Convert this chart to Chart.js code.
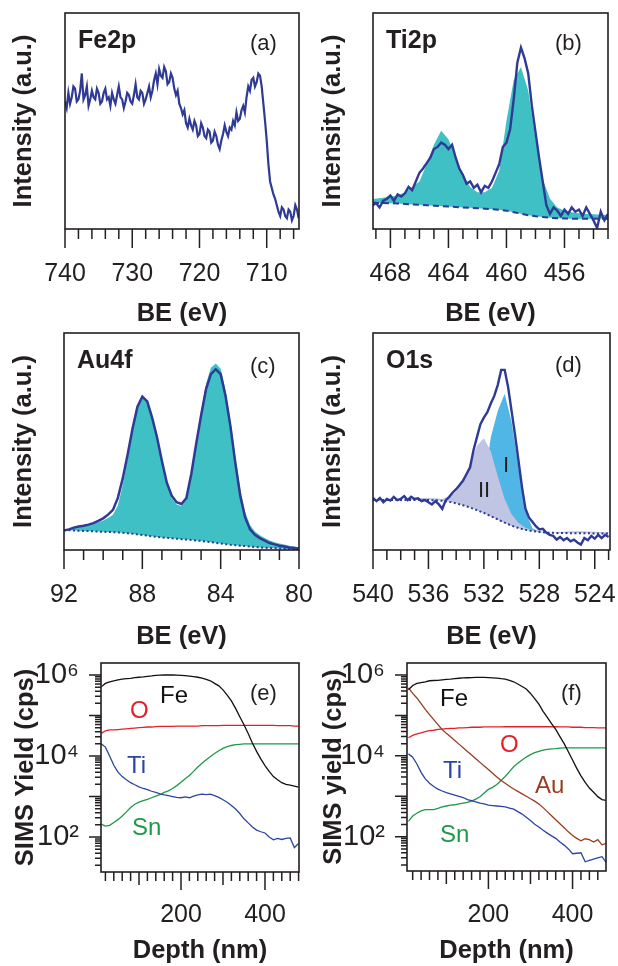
<!DOCTYPE html>
<html>
<head>
<meta charset="utf-8">
<title>XPS and SIMS depth profiles</title>
<script src="https://cdn.jsdelivr.net/npm/chart.js@4.4.1/dist/chart.umd.min.js"></script>
<style>
  html, body { margin: 0; padding: 0; background: #fff; }
  body { position: relative; width: 618px; height: 966px; overflow: hidden; }
  canvas { position: absolute; }
</style>
</head>
<body>
<canvas id="fe2p" width="318" height="340" style="left:0px;top:0px"></canvas>
<canvas id="ti2p" width="309" height="340" style="left:309px;top:0px"></canvas>
<canvas id="au4f" width="318" height="340" style="left:0px;top:320px"></canvas>
<canvas id="o1s" width="309" height="340" style="left:309px;top:320px"></canvas>
<canvas id="simsE" width="318" height="340" style="left:0px;top:640px"></canvas>
<canvas id="simsF" width="309" height="340" style="left:309px;top:640px"></canvas>
<script>
const FONT = '"Liberation Sans", Arial, Helvetica, sans-serif';
const INK = '#231f20';
const TRACE = '#2e3a94';
const TEAL = '#3ec0c4';

// (a) Fe2p, intensity in arbitrary units (0-100 of the frame)
const fe2pBE = [740,739.75,739.5,739.25,739,738.75,738.5,738.25,738,737.75,
  737.5,737.25,737,736.75,736.5,736.25,736,735.75,735.5,735.25,
  735,734.75,734.5,734.25,734,733.75,733.5,733.25,733,732.75,
  732.5,732.25,732,731.75,731.5,731.25,731,730.75,730.5,730.25,
  730,729.75,729.5,729.25,729,728.75,728.5,728.25,728,727.75,
  727.5,727.25,727,726.75,726.5,726.25,726,725.75,725.5,725.25,
  725,724.75,724.5,724.25,724,723.75,723.5,723.25,723,722.75,
  722.5,722.25,722,721.75,721.5,721.25,721,720.75,720.5,720.25,
  720,719.75,719.5,719.25,719,718.75,718.5,718.25,718,717.75,
  717.5,717.25,717,716.75,716.5,716.25,716,715.75,715.5,715.25,
  715,714.75,714.5,714.25,714,713.75,713.5,713.25,713,712.75,
  712.5,712.25,712,711.75,711.5,711.25,711,710.75,710.5,710.25,
  710,709.75,709.5,709.25,709,708.75,708.5,708.25,708,707.75,
  707.5,707.25,707,706.75,706.5,706.25,706,705.75,705.5,705.25];
const fe2pSignal = [59,56,63,58,61,66,65,59,60,64,
  72,60,62,66,57,60,64,61,60,65,
  63,58,59,63,65,60,61,57,63,60,
  58,62,66,61,60,56,59,63,62,59,
  58,62,67,61,60,64,63,58,60,63,
  66,61,64,69,72,67,74,71,70,75,
  73,67,68,72,70,65,62,64,58,56,
  53,55,49,47,51,48,46,50,48,43,
  44,49,47,43,42,46,45,40,41,45,
  43,39,37,41,44,48,45,43,47,46,
  50,48,54,50,51,55,57,54,61,66,
  64,69,70,66,68,72,71,66,58,50,
  41,30,22,19,16,14,11,8,6,10,
  9,6,5,9,8,4,6,11,9,5];
const fe2pTickLabels = [740, 730, 720, 710];

// (b) Ti2p
const ti2pBE = [469.2,469,468.75,468.5,468.25,468,467.75,467.5,467.25,467,466.75,
  466.5,466.25,466,465.75,465.5,465.25,465,464.75,464.5,464.25,
  464,463.75,463.5,463.25,463,462.75,462.5,462.25,462,461.75,
  461.5,461.25,461,460.75,460.5,460.25,460,459.75,459.5,459.25,
  459,458.75,458.5,458.25,458,457.75,457.5,457.25,457,456.75,
  456.5,456.25,456,455.75,455.5,455.25,455,454.75,454.5,454.25,
  454,453.75,453.5,453.25,453];
const ti2pSignal = [11,12,10,13,14,15.5,13,16,15,16.5,19.5,
  18,22,26,28,30.5,33,37,38,40,39,
  37,39,33,28,25,21,22,19,20.5,17,
  20,19,22,26,30,38,40,46,60,77,
  84,79,72,57,45,33,22,11,7,10,
  8.5,6,9,7,10,8,9,6,10,7,
  4,0.5,8,4,7];
const ti2pFitBE = [469.2,469,468.5,468,467.5,467,466.5,466,465.5,465,464.5,
  464,463.5,463,462.5,462,461.5,461,460.5,460,459.5,
  459,458.5,458,457.5,457,456.5,456,455.5,455,454.5,
  454,453.5,453];
const ti2pEnvelope = [14,14,14.5,15,15.5,17,19.5,22,30,39,45.5,
  41.5,33,25,19.5,17,17,19,27,50,69,
  75,64,42,23,14,10,8.5,7.8,7.3,7,
  6.8,6.6,6.5];
const ti2pBackground = [12.2,12.1,12,11.9,11.8,11.6,11.4,11.2,11,10.8,10.6,
  10.4,10.2,10,9.8,9.6,9.4,9.2,8.9,8.5,7.8,
  7.1,6.4,5.9,5.5,5.2,5,4.9,4.8,4.8,4.7,
  4.7,4.7,4.7];
const ti2pTickLabels = [468, 464, 460, 456];

// (c) Au4f
const au4fBE = [92,91.75,91.5,91.25,91,90.75,90.5,90.25,90,89.75,
  89.5,89.25,89,88.75,88.5,88.25,88,87.75,87.5,87.25,
  87,86.75,86.5,86.25,86,85.75,85.5,85.25,85,84.75,
  84.5,84.25,84,83.75,83.5,83.25,83,82.75,82.5,82.25,
  82,81.75,81.5,81.25,81,80.75,80.5,80.25,80];
const au4fSignal = [9,9.5,10.3,10.8,11.2,11.7,12.4,13.4,14.6,16.3,
  18.5,24,33,44,56,66,70.7,68.5,61,52,
  41,31,25,22,21.2,24,35,49,62,74,
  81,83.3,81,71,57,40,25,15,9.5,7,
  5.5,4.3,3.2,2.6,2,1.6,1.2,0.9,0.6];
const au4fEnvelope = [9.2,9.6,10.1,10.5,11,11.5,12,12.8,13.6,14.8,
  16.2,20.5,30,42,55,65.5,70.5,68.5,61.5,52,
  41,30.5,24,21,20.3,23.5,35,50,64,76.5,
  84,86,83.5,73.5,59.5,43,28,17.5,11.5,8.5,
  6.8,5.5,4.4,3.6,3,2.5,2,1.6,1.3];
const au4fBackground = [9.2,9.1,9,8.9,8.8,8.7,8.6,8.5,8.4,8.3,
  8.2,8.1,7.9,7.7,7.5,7.2,6.9,6.6,6.3,6,
  5.8,5.6,5.4,5.2,5,4.8,4.6,4.4,4.2,3.9,
  3.6,3.3,3,2.7,2.4,2.2,2,1.8,1.6,1.4,
  1.2,1,0.9,0.8,0.7,0.6,0.5,0.4,0.3];
const au4fTickLabels = [92, 88, 84, 80];

// (d) O1s
const o1sBE = [540,539.75,539.5,539.25,539,538.75,538.5,538.25,538,537.75,
  537.5,537.25,537,536.75,536.5,536.25,536,535.75,535.5,535.25,
  535,534.75,534.5,534.25,534,533.75,533.5,533.25,533,532.75,
  532.5,532.25,532,531.75,531.5,531.25,531,530.75,530.5,530.25,
  530,529.75,529.5,529.25,529,528.75,528.5,528.25,528,527.75,
  527.5,527.25,527,526.75,526.5,526.25,526,525.75,525.5,525.25,
  525,524.75,524.5,524.25,524,523.75,523.5,523.25,523];
const o1sSignal = [24,22.5,24,22,23.5,22.8,24.5,23,23.5,24.8,
  23,24.5,23.5,23.8,22.5,23,22,21,22.5,21,
  19,23,24.5,26.5,28,30,32,35,38,46,
  52,58,61,63.5,67.5,71,76,83,83,75,
  64,53,41,29,19,15,13,11,9.5,9.8,
  8,7,6.5,4.8,6,4.5,5.5,4,4.8,3.5,
  2.5,5.5,4.5,6.5,5.2,7,5.5,7,6];
const o1sFitBE = [540,539.5,539,538.5,538,537.5,537,536.5,536,535.5,
  535,534.5,534,533.5,533,532.5,532,531.5,531,530.5,
  530,529.5,529,528.5,528,527.5,527,526.5,526,525.5,
  525,524.5,524,523.5,523];
const o1sBackground = [23,23,23,23,23,23,23,23,23,22.9,
  22.7,22.2,21.5,20.6,19.6,18.4,17.1,15.6,14.1,12.6,
  11.2,10.1,9.3,8.7,8.3,8,7.9,7.8,7.8,7.7,
  7.7,7.7,7.6,7.6,7.6];
const o1sPeakII = [23,23,23,23,23,23,23.8,24,24,23.8,
  23.5,24.5,27,32,40,48,51.5,45.5,34,23.5,
  16.5,12.5,10.3,9.2,8.6,8.2,8.1,8.3,8.5,8.6,
  8.6,8.5,8.4,8.3,8.2];
const o1sPeakI = [23,23,23,23,23,23,23,23,23,22.9,
  22.7,22.2,21.5,20.6,19.6,18.4,30,52,64,72,
  59,38,18,10,8.5,8,7.9,7.8,7.8,7.7,
  7.7,7.7,7.6,7.6,7.6];
const o1sTickLabels = [540, 536, 532, 528, 524];

// (e) and (f) SIMS depth profiles, yield in cps
const depth = [10,20,30,40,50,60,70,80,90,100,110,120,130,140,150,160,170,180,190,200,
  210,220,230,240,250,260,270,280,290,300,310,320,330,340,350,360,370,380,390,400,
  410,420,430,440,450,460,470,480];
const feE = [5.1e5,6.2e5,6.8e5,7.2e5,7.6e5,7.9e5,8.1e5,8.3e5,8.6e5,8.8e5,
  9.0e5,9.3e5,9.5e5,9.8e5,9.9e5,1.0e6,1.0e6,1.0e6,9.9e5,9.8e5,
  9.7e5,9.4e5,9.1e5,8.8e5,8.4e5,7.8e5,7.2e5,6.2e5,5.4e5,4.3e5,
  3.2e5,2.3e5,1.5e5,9.3e4,5.9e4,3.6e4,2.1e4,1.3e4,8.5e3,5.8e3,
  4.2e3,3.1e3,2.6e3,2.2e3,2.0e3,1.9e3,1.8e3,1.7e3];
const oE = [3.6e4,4.2e4,4.4e4,4.4e4,4.5e4,4.6e4,4.7e4,4.8e4,4.9e4,5.0e4,
  5.1e4,5.2e4,5.2e4,5.3e4,5.4e4,5.4e4,5.4e4,5.4e4,5.5e4,5.5e4,
  5.5e4,5.5e4,5.5e4,5.5e4,5.6e4,5.6e4,5.6e4,5.6e4,5.6e4,5.7e4,
  5.7e4,5.7e4,5.7e4,5.7e4,5.7e4,5.7e4,5.7e4,5.7e4,5.7e4,5.7e4,
  5.7e4,5.7e4,5.6e4,5.6e4,5.6e4,5.6e4,5.5e4,5.5e4];
const tiE = [2.0e4,1.66e4,1.0e4,5.9e3,4.0e3,3.1e3,2.6e3,2.2e3,1.95e3,1.74e3,
  1.58e3,1.48e3,1.35e3,1.26e3,1.17e3,1.10e3,1.05e3,1.0e3,955,933,
  977,933,1.02e3,1.10e3,1.15e3,1.12e3,1.15e3,1.05e3,955,832,
  724,603,490,380,282,224,178,148,135,126,
  100,85,93,87,93,95,55,69];
const snE = [209,186,195,229,269,331,417,537,646,724,
  794,851,933,1.02e3,1.12e3,1.26e3,1.38e3,1.58e3,1.86e3,2.24e3,
  2.75e3,3.31e3,4.17e3,5.37e3,6.61e3,8.13e3,9.77e3,1.15e4,1.35e4,1.55e4,
  1.70e4,1.82e4,1.91e4,1.95e4,2.0e4,2.0e4,2.0e4,2.0e4,2.0e4,2.0e4,
  2.0e4,2.0e4,2.0e4,2.0e4,2.0e4,2.0e4,2.0e4,2.0e4];
const feF = [4.3e5,5.5e5,6.2e5,6.5e5,6.8e5,7.2e5,7.3e5,7.4e5,7.6e5,7.8e5,
  7.9e5,8.1e5,8.3e5,8.5e5,8.55e5,8.6e5,8.7e5,8.7e5,8.7e5,8.6e5,
  8.5e5,8.4e5,8.1e5,7.9e5,7.4e5,6.8e5,6.0e5,5.2e5,4.5e5,3.5e5,
  2.6e5,1.9e5,1.26e5,8.9e4,6.3e4,4.5e4,3.0e4,2.0e4,1.26e4,7.9e3,
  4.9e3,3.2e3,2.2e3,1.6e3,1.26e3,980,830,790];
const oF = [2.8e4,3.2e4,3.5e4,3.7e4,4.0e4,4.2e4,4.3e4,4.5e4,4.6e4,4.7e4,
  4.8e4,4.8e4,4.9e4,4.9e4,5.0e4,5.1e4,5.1e4,5.1e4,5.2e4,5.2e4,
  5.2e4,5.2e4,5.2e4,5.25e4,5.25e4,5.25e4,5.25e4,5.25e4,5.25e4,5.25e4,
  5.25e4,5.25e4,5.25e4,5.25e4,5.25e4,5.25e4,5.2e4,5.2e4,5.2e4,5.1e4,
  5.1e4,5.1e4,5.0e4,5.0e4,5.0e4,4.9e4,4.9e4,4.9e4];
const auF = [4.8e5,3.5e5,2.7e5,1.95e5,1.41e5,1.05e5,7.9e4,5.9e4,4.5e4,3.6e4,
  2.95e4,2.4e4,1.95e4,1.58e4,1.29e4,1.05e4,8.5e3,6.9e3,5.6e3,4.6e3,
  3.7e3,3.0e3,2.45e3,2.1e3,1.78e3,1.51e3,1.32e3,1.15e3,1.0e3,870,
  760,645,525,417,331,263,209,166,132,107,
  91,79,89,85,74,85,63,69];
const tiF = [1.12e4,9.3e3,6.3e3,3.9e3,2.7e3,2.1e3,1.74e3,1.51e3,1.35e3,1.23e3,
  1.15e3,1.07e3,1.0e3,933,832,776,724,676,646,603,
  589,575,562,550,513,479,417,363,302,251,
  204,174,145,123,105,91,74,62,50,38,
  39,40,24,26,28,30,32,23];
const snF = [240,324,380,437,468,468,468,501,550,575,
  603,617,646,676,708,759,851,977,1.20e3,1.48e3,
  1.66e3,1.95e3,2.45e3,3.09e3,4.07e3,5.37e3,6.61e3,7.94e3,9.33e3,1.07e4,
  1.20e4,1.29e4,1.38e4,1.45e4,1.48e4,1.51e4,1.55e4,1.58e4,1.58e4,1.58e4,
  1.58e4,1.58e4,1.58e4,1.58e4,1.58e4,1.58e4,1.58e4,1.58e4];
const depthTickLabels = [200, 400];
const yieldTickLabels = [1e2, 1e4, 1e6];
const SUP = { 2: '\u00b2', 4: '\u2074', 6: '\u2076' };

const xy = (xs, ys) => xs.map((x, i) => ({ x, y: ys[i] }));

// tick marks along the bottom edge: [value, length]
function marks(lo, hi, step, lenOf) {
  const out = [];
  for (let i = Math.ceil(lo / step - 1e-9); i * step <= hi + 1e-9; i++) {
    out.push([i * step, lenOf(i * step)]);
  }
  return out;
}
function logMarks(lo, hi) {
  const out = [];
  for (let e = 1; e <= 6; e++) {
    for (let k = 1; k <= 9; k++) {
      const v = k * Math.pow(10, e);
      if (v >= lo && v <= hi) out.push([v, k === 1 ? 12 : 6]);
    }
  }
  return out;
}

// frame, tick marks and in-plot labels
function deco(spec) {
  return {
    id: 'deco',
    afterDraw(chart) {
      const { ctx, chartArea: a, scales } = chart;
      const ox = chart.canvas.offsetLeft, oy = chart.canvas.offsetTop;
      ctx.save();
      ctx.strokeStyle = INK;
      ctx.lineWidth = 1.6;
      ctx.strokeRect(a.left, a.top, a.right - a.left, a.bottom - a.top);
      ctx.lineWidth = 1.5;
      ctx.beginPath();
      for (const [v, len] of spec.xMarks) {
        const px = scales.x.getPixelForValue(v);
        ctx.moveTo(px, a.bottom);
        ctx.lineTo(px, a.bottom + len);
      }
      for (const [v, len] of (spec.yMarks || [])) {
        const py = scales.y.getPixelForValue(v);
        ctx.moveTo(a.left, py);
        ctx.lineTo(a.left - len, py);
      }
      ctx.stroke();
      ctx.textAlign = 'left';
      ctx.textBaseline = 'alphabetic';
      for (const t of spec.texts) {
        ctx.font = t.font + ' ' + FONT;
        ctx.fillStyle = t.color || INK;
        ctx.fillText(t.text, t.x - ox, t.y - oy);
      }
      ctx.restore();
    }
  };
}

// area = [left, top, right, bottom] of the frame, in page pixels
function panel(id, area, datasets, x, y, spec) {
  const canvas = document.getElementById(id);
  const cl = canvas.offsetLeft, ct = canvas.offsetTop;
  const cw = canvas.width, ch = canvas.height;
  const [al, at, ar, ab] = area;
  const bottom = ct + ch;
  const xScale = {
    type: 'linear', position: 'bottom', min: x.min, max: x.max, reverse: !!x.reverse,
    grid: { display: false, drawTicks: false }, border: { display: false },
    afterBuildTicks: s => { s.ticks = x.labels.map(v => ({ value: v })); },
    afterFit: s => { s.height = bottom - ab; s.paddingLeft = 0; s.paddingRight = 0; },
    ticks: { autoSkip: false, maxRotation: 0, minRotation: 0, color: INK,
      padding: x.labelY - ab - 15, font: { family: FONT, size: 25 } },
    title: { display: true, text: x.title, color: INK,
      font: { family: FONT, size: 25.5, weight: 'bold' },
      padding: { top: 0, bottom: bottom - x.titleY - 15.3 } }
  };
  const yScale = Object.assign({
    position: 'left', min: y.min, max: y.max,
    grid: { display: false, drawTicks: false }, border: { display: false },
    afterFit: s => { s.width = al - cl; s.paddingTop = 0; s.paddingBottom = 0; },
    title: { display: true, text: y.title, color: INK,
      font: { family: FONT, size: 25.5, weight: 'bold' },
      padding: { top: y.titleX - cl - 15.3, bottom: 0 } }
  }, y.extra);
  return new Chart(canvas, {
    type: 'line',
    data: { datasets },
    options: {
      responsive: false, animation: false, devicePixelRatio: 1, events: [],
      layout: { padding: { left: 0, top: at - ct, right: cl + cw - ar, bottom: 0 } },
      elements: { point: { radius: 0 }, line: { tension: 0 } },
      plugins: { legend: { display: false }, tooltip: { enabled: false } },
      scales: { x: xScale, y: yScale }
    },
    plugins: [deco(spec)]
  });
}

const xpsY = (titleX) => ({ min: 0, max: 100, title: 'Intensity (a.u.)', titleX,
  extra: { ticks: { display: false } } });
const every4 = v => (v % 4 === 0 ? 19 : 10);

// (a)
panel('fe2p', [65, 13, 299, 229],
  [{ data: xy(fe2pBE, fe2pSignal), borderColor: TRACE, borderWidth: 2.2, fill: false }],
  { min: 705.2, max: 740, reverse: true, labels: fe2pTickLabels, title: 'BE (eV)', labelY: 274, titleY: 314 },
  xpsY(24),
  { xMarks: marks(705.2, 740, 2, v => (v % 10 === 0 ? 19 : 10)),
    texts: [{ text: 'Fe2p', x: 78, y: 48, font: 'bold 25px' },
            { text: '(a)', x: 250, y: 50, font: '22px' }] });

// (b)
panel('ti2p', [373, 13, 608, 229],
  [{ data: xy(ti2pBE, ti2pSignal), borderColor: TRACE, borderWidth: 2.4, fill: false, order: 1 },
   { data: xy(ti2pFitBE, ti2pBackground), borderColor: TRACE, borderWidth: 2, borderDash: [6, 4], fill: false, order: 2 },
   { data: xy(ti2pFitBE, ti2pEnvelope), borderColor: 'transparent', borderWidth: 0, backgroundColor: TEAL, fill: 1, order: 3 }],
  { min: 453, max: 469.2, reverse: true, labels: ti2pTickLabels, title: 'BE (eV)', labelY: 274, titleY: 314 },
  xpsY(333),
  { xMarks: marks(453, 469.2, 1, every4),
    texts: [{ text: 'Ti2p', x: 386, y: 48, font: 'bold 25px' },
            { text: '(b)', x: 555, y: 50, font: '22px' }] });

// (c)
panel('au4f', [64, 333, 299, 550],
  [{ data: xy(au4fBE, au4fSignal), borderColor: TRACE, borderWidth: 2.5, fill: false, order: 1 },
   { data: xy(au4fBE, au4fBackground), borderColor: TRACE, borderWidth: 2, borderDash: [2, 2.5], fill: false, order: 2 },
   { data: xy(au4fBE, au4fEnvelope), borderColor: 'transparent', borderWidth: 0, backgroundColor: TEAL, fill: 1, order: 3 }],
  { min: 80, max: 92, reverse: true, labels: au4fTickLabels, title: 'BE (eV)', labelY: 595, titleY: 637 },
  xpsY(24),
  { xMarks: marks(80, 92, 1, every4),
    texts: [{ text: 'Au4f', x: 77, y: 368, font: 'bold 25px' },
            { text: '(c)', x: 250, y: 373, font: '22px' }] });

// (d)
panel('o1s', [373, 333, 610, 550],
  [{ data: xy(o1sBE, o1sSignal), borderColor: TRACE, borderWidth: 2.4, fill: false, order: 1 },
   { data: xy(o1sFitBE, o1sBackground), borderColor: TRACE, borderWidth: 2, borderDash: [2, 2.5], fill: false, order: 2 },
   { data: xy(o1sFitBE, o1sPeakII), borderColor: 'transparent', borderWidth: 0, backgroundColor: '#bfc5e3', fill: 1, order: 3 },
   { data: xy(o1sFitBE, o1sPeakI), borderColor: 'transparent', borderWidth: 0, backgroundColor: '#4fb6e5', fill: 1, order: 4 }],
  { min: 522.9, max: 540, reverse: true, labels: o1sTickLabels, title: 'BE (eV)', labelY: 595, titleY: 637 },
  xpsY(333),
  { xMarks: marks(522.9, 540, 1, every4),
    texts: [{ text: 'O1s', x: 386, y: 368, font: 'bold 25px' },
            { text: '(d)', x: 555, y: 372, font: '22px' },
            { text: 'I', x: 503, y: 472, font: '22px' },
            { text: 'II', x: 478, y: 497, font: '22px' }] });

// SIMS
const RED = '#e4202a', BLU = '#2c45a0', GRN = '#1d9a48', BRN = '#9a3b22', BLK = '#111111';
const simsLine = (ys, color) => ({ data: xy(depth, ys), borderColor: color, borderWidth: 1.3, fill: false });
const depthLen = v => (v % 200 === 0 ? 18 : v % 100 === 0 ? 13 : 9);
const logY = (min, max, title, titleX) => ({
  min, max, title, titleX,
  extra: {
    type: 'logarithmic',
    afterBuildTicks: s => { s.ticks = yieldTickLabels.map(v => ({ value: v })); },
    ticks: { autoSkip: false, padding: 22, color: INK, font: { family: FONT, size: 29 },
      callback: v => '10' + SUP[Math.round(Math.log10(v))] }
  }
});

// (e)
panel('simsE', [101, 663, 299, 872],
  [simsLine(feE, BLK), simsLine(oE, RED), simsLine(tiE, BLU), simsLine(snE, GRN)],
  { min: 9.5, max: 481, labels: depthTickLabels, title: 'Depth (nm)', labelY: 915, titleY: 951 },
  logY(13.7, 1.98e6, 'SIMS Yield (cps)', 26),
  { xMarks: marks(9.5, 481, 20, depthLen), yMarks: logMarks(13.7, 1.98e6),
    texts: [{ text: '(e)', x: 250, y: 700, font: '22px' },
            { text: 'Fe', x: 160, y: 703, font: '24px', color: BLK },
            { text: 'O', x: 130, y: 718, font: '24px', color: RED },
            { text: 'Ti', x: 127, y: 773, font: '24px', color: BLU },
            { text: 'Sn', x: 132, y: 835, font: '24px', color: GRN }] });

// (f)
panel('simsF', [407, 663, 606, 871],
  [simsLine(feF, BLK), simsLine(oF, RED), simsLine(auF, BRN), simsLine(tiF, BLU), simsLine(snF, GRN)],
  { min: 6.5, max: 479.5, labels: depthTickLabels, title: 'Depth (nm)', labelY: 915, titleY: 951 },
  logY(14.2, 1.98e6, 'SIMS yield (cps)', 334),
  { xMarks: marks(6.5, 479.5, 20, depthLen), yMarks: logMarks(14.2, 1.98e6),
    texts: [{ text: '(f)', x: 561, y: 700, font: '22px' },
            { text: 'Fe', x: 440, y: 706, font: '24px', color: BLK },
            { text: 'O', x: 500, y: 752, font: '24px', color: RED },
            { text: 'Ti', x: 443, y: 778, font: '24px', color: BLU },
            { text: 'Au', x: 535, y: 793, font: '24px', color: BRN },
            { text: 'Sn', x: 440, y: 842, font: '24px', color: GRN }] });
</script>
</body>
</html>
